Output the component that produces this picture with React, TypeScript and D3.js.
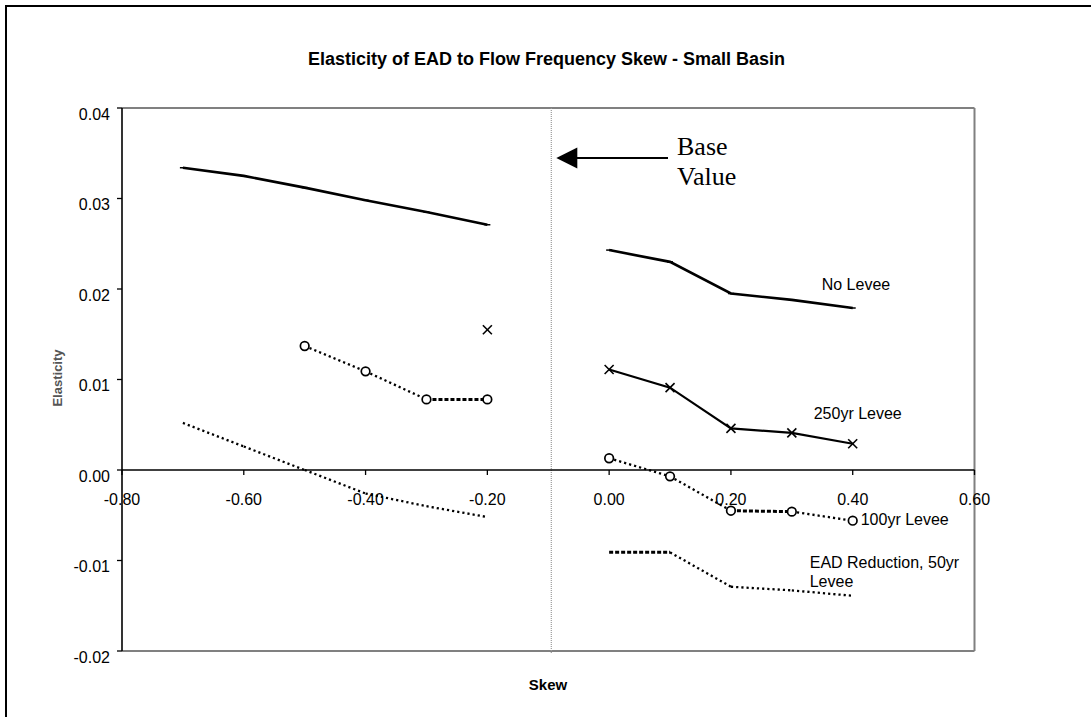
import React from "react";
import * as d3 from "d3";

// ---- data ----
const skew: number[] = [-0.7, -0.6, -0.5, -0.4, -0.3, -0.2, -0.1, 0.0, 0.1, 0.2, 0.3, 0.4];
const noLevee: (number | null)[] = [0.0334, 0.0325, 0.0312, 0.0298, 0.0285, 0.0271, null, 0.0243, 0.0230, 0.0195, 0.0188, 0.0179];
const levee250: (number | null)[] = [null, null, null, null, null, 0.0155, null, 0.0111, 0.0091, 0.0046, 0.0041, 0.0029];
const levee100: (number | null)[] = [null, null, 0.0137, 0.0109, 0.0078, 0.0078, null, 0.0013, -0.0007, -0.0045, -0.0046, -0.0056];
const ead50: (number | null)[] = [0.0052, 0.0026, 0.0, -0.0026, -0.0040, -0.0052, null, -0.0091, -0.0091, -0.0129, -0.0133, -0.0139];

const xTicks: number[] = [-0.8, -0.6, -0.4, -0.2, 0.0, 0.2, 0.4, 0.6];
const yTicks: number[] = [0.04, 0.03, 0.02, 0.01, 0.0, -0.01, -0.02];
const baseValue = -0.095;

const title = "Elasticity of EAD to Flow Frequency Skew - Small Basin";
const xTitle = "Skew";
const yTitle = "Elasticity";

const W = 1091;
const H = 717;
const SANS = "'Liberation Sans', Arial, Helvetica, sans-serif";
const SERIF = "'Liberation Serif', 'Times New Roman', serif";

const fmt = (v: number) => d3.format(".2f")(v).replace("\u2212", "-");

export default function App() {
  const x = d3.scaleLinear().domain([-0.8, 0.6]).range([122, 974.5]);
  const y = d3.scaleLinear().domain([-0.02, 0.04]).range([651, 108]);

  type P = { s: number; v: number | null };
  const pts = (arr: (number | null)[]): P[] => skew.map((s, i) => ({ s, v: arr[i] }));

  const line = d3
    .line<P>()
    .defined((d) => d.v !== null)
    .x((d) => x(d.s))
    .y((d) => y(d.v as number));

  // dotted lines drawn segment by segment (horizontal segments render bolder)
  const dottedSegments = (arr: (number | null)[], key: string) => {
    const out: JSX.Element[] = [];
    for (let i = 0; i < skew.length - 1; i++) {
      const a = arr[i];
      const b = arr[i + 1];
      if (a === null || b === null) continue;
      const horiz = Math.abs(y(a) - y(b)) < 1;
      out.push(
        <line
          key={key + i}
          x1={x(skew[i])}
          y1={y(a)}
          x2={x(skew[i + 1])}
          y2={y(b)}
          stroke="#000"
          strokeWidth={horiz ? 3 : 2.3}
          strokeDasharray={horiz ? "4,2" : "2.2,3"}
        />
      );
    }
    return out;
  };

  const x0 = x.range()[0];
  const x1 = x.range()[1];
  const yTop = y.range()[1];
  const yBot = y.range()[0];
  const yZero = y(0);
  const xb = x(baseValue);

  const last = skew.length - 1;
  const lx = x(skew[last]);
  const FS = 16;

  return (
    <svg
      width={W}
      height={H}
      style={{ position: "absolute", left: 0, top: 0, background: "#fff" }}
      fontFamily={SANS}
    >
      <rect x={0} y={0} width={W} height={H} fill="#fff" />
      {/* outer frame */}
      <rect x={6} y={6} width={1300} height={900} fill="none" stroke="#000" strokeWidth={2} />

      {/* title */}
      <text x={546.5} y={65} textAnchor="middle" fontSize={18} fontWeight="bold" fill="#000">
        {title}
      </text>

      {/* plot area border (gray) */}
      <line x1={x0} y1={yTop} x2={x1} y2={yTop} stroke="#808080" strokeWidth={2} />
      <line x1={x1} y1={yTop} x2={x1} y2={yBot} stroke="#808080" strokeWidth={2} />
      <line x1={x0} y1={yBot} x2={x1} y2={yBot} stroke="#808080" strokeWidth={2} />

      {/* base value vertical dotted line */}
      <line x1={xb} y1={yTop} x2={xb} y2={yBot + 2} stroke="#9a9a9a" strokeWidth={1.2} strokeDasharray="1,1" />

      {/* y axis */}
      <line x1={x0} y1={yTop} x2={x0} y2={yBot} stroke="#000" strokeWidth={1.6} />
      {yTicks.map((t) => (
        <g key={"yt" + t}>
          <line x1={x0 - 5} y1={y(t)} x2={x0} y2={y(t)} stroke="#000" strokeWidth={1.3} />
          <text x={110} y={y(t) + 11.5} textAnchor="end" fontSize={FS} fill="#000">
            {fmt(t)}
          </text>
        </g>
      ))}

      {/* x axis at zero */}
      <line x1={x0} y1={yZero} x2={x1} y2={yZero} stroke="#000" strokeWidth={1.6} />
      {xTicks.map((t) => (
        <g key={"xt" + t}>
          <line x1={x(t)} y1={yZero} x2={x(t)} y2={yZero + 5} stroke="#000" strokeWidth={1.3} />
          <text x={x(t)} y={505} textAnchor="middle" fontSize={FS} fill="#000">
            {fmt(t)}
          </text>
        </g>
      ))}

      {/* axis titles */}
      <text x={548} y={690} textAnchor="middle" fontSize={15} fontWeight="bold" fill="#000">
        {xTitle}
      </text>
      <text
        transform={`translate(62,378) rotate(-90)`}
        textAnchor="middle"
        fontSize={13}
        fontWeight="bold"
        fill="#555"
      >
        {yTitle}
      </text>

      {/* No Levee: solid */}
      <path d={line(pts(noLevee)) || ""} fill="none" stroke="#000" strokeWidth={2.6} />
      {pts(noLevee)
        .filter((d) => d.v !== null)
        .map((d, i) => (
          <line key={"nl" + i} x1={x(d.s) - 3} y1={y(d.v as number)} x2={x(d.s) + 3} y2={y(d.v as number)} stroke="#000" strokeWidth={1.5} />
        ))}

      {/* 250yr Levee: solid with x markers */}
      <path d={line(pts(levee250)) || ""} fill="none" stroke="#000" strokeWidth={2.2} />
      {pts(levee250)
        .filter((d) => d.v !== null)
        .map((d, i) => {
          const cx = x(d.s);
          const cy = y(d.v as number);
          const r = 4.5;
          return (
            <g key={"l250" + i} stroke="#000" strokeWidth={1.6}>
              <line x1={cx - r} y1={cy - r} x2={cx + r} y2={cy + r} />
              <line x1={cx - r} y1={cy + r} x2={cx + r} y2={cy - r} />
            </g>
          );
        })}

      {/* 100yr Levee: dotted with circle markers */}
      {dottedSegments(levee100, "l100")}
      {pts(levee100)
        .filter((d) => d.v !== null)
        .map((d, i) => (
          <circle key={"c100" + i} cx={x(d.s)} cy={y(d.v as number)} r={4.3} fill="#fff" stroke="#000" strokeWidth={1.7} />
        ))}

      {/* EAD Reduction, 50yr Levee: dotted */}
      {dottedSegments(ead50, "e50")}

      {/* series labels */}
      <text x={lx - 31} y={y(noLevee[last] as number) - 18} fontSize={FS} fill="#000">No Levee</text>
      <text x={lx - 39} y={y(levee250[last] as number) - 25} fontSize={FS} fill="#000">250yr Levee</text>
      <text x={lx + 8} y={y(levee100[last] as number) + 4} fontSize={FS} fill="#000">100yr Levee</text>
      <text x={lx - 43} y={y(ead50[last] as number) - 28} fontSize={FS} fill="#000">
        <tspan x={lx - 43}>EAD Reduction, 50yr</tspan>
        <tspan x={lx - 43} dy={19.5}>Levee</tspan>
      </text>

      {/* Base value annotation */}
      <line x1={xb + 24} y1={158} x2={668} y2={158} stroke="#000" strokeWidth={2} />
      <path d={`M${xb + 5},158 L${xb + 26},147.5 L${xb + 26},168.5 Z`} fill="#000" />
      <text x={677} y={155} fontFamily={SERIF} fontSize={26} fill="#000">Base</text>
      <text x={677} y={185} fontFamily={SERIF} fontSize={26} fill="#000">Value</text>
    </svg>
  );
}
